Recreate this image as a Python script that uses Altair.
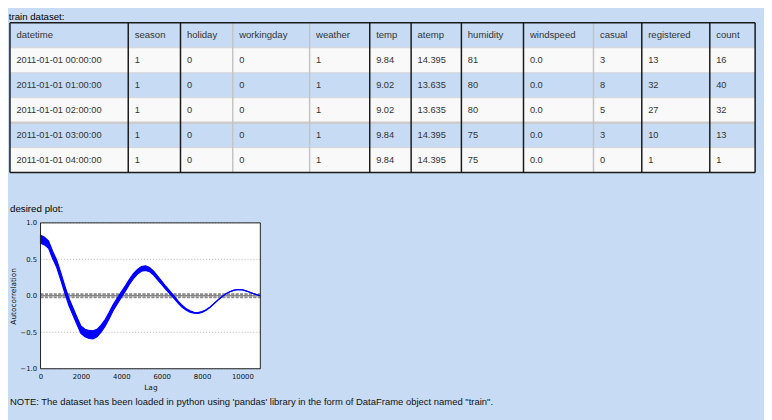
import altair as alt
import pandas as pd

# ---------------- data: table ----------------
columns = ["datetime", "season", "holiday", "workingday", "weather", "temp",
           "atemp", "humidity", "windspeed", "casual", "registered", "count"]
datetime_vals = ["2011-01-01 00:00:00", "2011-01-01 01:00:00", "2011-01-01 02:00:00",
                 "2011-01-01 03:00:00", "2011-01-01 04:00:00"]
season = ["1", "1", "1", "1", "1"]
holiday = ["0", "0", "0", "0", "0"]
workingday = ["0", "0", "0", "0", "0"]
weather = ["1", "1", "1", "1", "1"]
temp = ["9.84", "9.02", "9.02", "9.84", "9.84"]
atemp = ["14.395", "13.635", "13.635", "14.395", "14.395"]
humidity = ["81", "80", "80", "75", "75"]
windspeed = ["0.0", "0.0", "0.0", "0.0", "0.0"]
casual = ["3", "8", "5", "3", "0"]
registered = ["13", "32", "27", "10", "1"]
count = ["16", "40", "32", "13", "1"]

# ---------------- data: autocorrelation ----------------
lags = [0, 200, 400, 600, 800, 1000, 1200, 1400, 1600, 1800, 2000, 2200, 2400, 2600,
        2800, 3000, 3200, 3400, 3600, 3800, 4000, 4200, 4400, 4600, 4800, 5000, 5200,
        5400, 5600, 5800, 6000, 6200, 6400, 6600, 6800, 7000, 7200, 7400, 7600, 7800,
        8000, 8200, 8400, 8600, 8800, 9000, 9200, 9400, 9600, 9800, 10000, 10200,
        10400, 10600, 10800, 10886]
acf_center = [0.775, 0.75, 0.70, 0.56, 0.44, 0.27, 0.09, -0.08, -0.21, -0.34, -0.465,
              -0.51, -0.53, -0.535, -0.51, -0.45, -0.37, -0.27, -0.16, -0.07, 0.015,
              0.10, 0.19, 0.27, 0.33, 0.37, 0.38, 0.36, 0.31, 0.245, 0.18, 0.11, 0.05,
              -0.015, -0.08, -0.14, -0.185, -0.215, -0.232, -0.235, -0.222, -0.195,
              -0.155, -0.105, -0.055, -0.01, 0.03, 0.06, 0.078, 0.086, 0.082, 0.065,
              0.045, 0.025, 0.008, 0.0]
acf_halfband = [0.055, 0.052, 0.05, 0.05, 0.05, 0.05, 0.05, 0.05, 0.05, 0.05,
                0.05, 0.052, 0.055, 0.055, 0.05, 0.047, 0.045, 0.043, 0.041, 0.04,
                0.038, 0.036, 0.035, 0.034, 0.033, 0.032, 0.031, 0.029, 0.027, 0.025,
                0.023, 0.021, 0.019, 0.017, 0.015, 0.013, 0.011, 0.009, 0.007, 0.006,
                0.005, 0.004, 0.003, 0.002, 0.001, 0.0, 0.0, 0.0, 0.0, 0.0, 0.0,
                0.0, 0.0, 0.0, 0.0, 0.0]
conf_levels = [0.025, 0.019, -0.019, -0.025]
zero_level = [0.0]
x_ticks = [0, 2000, 4000, 6000, 8000, 10000]
y_ticks = [-1.0, -0.5, 0.0, 0.5, 1.0]
lag_max = 10886

NOTE = "NOTE: The dataset has been loaded in python using 'pandas' library in the form of DataFrame object named \"train\"."

# ---------------- styles ----------------
BLUE = "#c7dcf4"
WHITE_ROW = "#f9f9f9"
TXT = "#333333"
FONT = "Liberation Sans"
PFONT = "DejaVu Sans"
COL_WIDTHS = [120, 53, 53, 78, 61, 42, 51, 63, 71, 49, 69, 46]
DARK_EDGE = [True, True, True, False, False, True, True, True, True, False, True, True, True]
TABLE_W = sum(COL_WIDTHS)
TABLE_H = 152
N_ROWS = 6
AXIS_ROOM = 31          # room left of the plot area for the y-axis labels/title
PLOT_W = 223
PLOT_H = 148

edges = [0]
for w in COL_WIDTHS:
    edges.append(edges[-1] + w)

body = [datetime_vals, season, holiday, workingday, weather, temp, atemp,
        humidity, windspeed, casual, registered, count]

cells = []
for c, name in enumerate(columns):
    cells.append(dict(x=edges[c], x2=edges[c + 1], y=0, y2=1, yc=0.5,
                      text=name, kind="header", band="blue"))
    for r in range(5):
        cells.append(dict(x=edges[c], x2=edges[c + 1], y=r + 1, y2=r + 2, yc=r + 1.5,
                          text=body[c][r], kind="cell",
                          band="white" if r % 2 == 0 else "blue"))
cells_df = pd.DataFrame(cells)

vlines = pd.DataFrame([dict(x=e, y=0, y2=N_ROWS, dark="d" if d else "g")
                       for e, d in zip(edges, DARK_EDGE)])
hinner = pd.DataFrame([dict(y=r, x=0, x2=TABLE_W, w="thick" if r == 4 else "thin")
                       for r in range(1, N_ROWS)])
houter = pd.DataFrame([dict(y=r, x=0, x2=TABLE_W) for r in (0, N_ROWS)])

xs = alt.Scale(domain=[0, TABLE_W], nice=False, zero=False)
ys = alt.Scale(domain=[0, N_ROWS], range=[0, TABLE_H], nice=False, zero=False)

rects = alt.Chart(cells_df).mark_rect(strokeWidth=0).encode(
    x=alt.X("x:Q", scale=xs, axis=None), x2="x2:Q",
    y=alt.Y("y:Q", scale=ys, axis=None), y2="y2:Q",
    color=alt.Color("band:N", scale=alt.Scale(domain=["blue", "white"], range=[BLUE, WHITE_ROW]),
                    legend=None))
hin_thin = alt.Chart(hinner).transform_filter("datum.w == 'thin'").mark_rule(
    color="#d6d6d6", strokeWidth=1).encode(
    x=alt.X("x:Q", scale=xs, axis=None), x2="x2:Q", y=alt.Y("y:Q", scale=ys, axis=None))
hin_thick = alt.Chart(hinner).transform_filter("datum.w == 'thick'").mark_rule(
    color="#cccccc", strokeWidth=2.5).encode(
    x=alt.X("x:Q", scale=xs, axis=None), x2="x2:Q", y=alt.Y("y:Q", scale=ys, axis=None))
v_grey = alt.Chart(vlines).transform_filter("datum.dark == 'g'").mark_rule(
    color="#c4c4c4", strokeWidth=1.5).encode(
    x=alt.X("x:Q", scale=xs, axis=None), y=alt.Y("y:Q", scale=ys, axis=None), y2="y2:Q")
v_dark = alt.Chart(vlines).transform_filter("datum.dark == 'd'").mark_rule(
    color="#1a1a1a", strokeWidth=1.5).encode(
    x=alt.X("x:Q", scale=xs, axis=None), y=alt.Y("y:Q", scale=ys, axis=None), y2="y2:Q")
h_out = alt.Chart(houter).mark_rule(color="#1a1a1a", strokeWidth=1.5).encode(
    x=alt.X("x:Q", scale=xs, axis=None), x2="x2:Q", y=alt.Y("y:Q", scale=ys, axis=None))
txt_head = alt.Chart(cells_df).transform_filter("datum.kind == 'header'").mark_text(
    align="left", baseline="middle", dx=6.5, font=FONT, fontSize=9.7, color=TXT).encode(
    x=alt.X("x:Q", scale=xs, axis=None), y=alt.Y("yc:Q", scale=ys, axis=None), text="text:N")
txt_cell = alt.Chart(cells_df).transform_filter("datum.kind == 'cell'").mark_text(
    align="left", baseline="middle", dx=6.5, font=FONT, fontSize=9.4, color=TXT).encode(
    x=alt.X("x:Q", scale=xs, axis=None), y=alt.Y("yc:Q", scale=ys, axis=None), text="text:N")

table = alt.layer(rects, hin_thin, hin_thick, v_grey, v_dark, h_out, txt_head, txt_cell).properties(
    width=TABLE_W, height=178,
    title=alt.TitleParams("train dataset:", anchor="start", frame="bounds", font=FONT,
                          fontSize=9.8, fontWeight="normal", color="#000000", offset=0))

# ---------------- autocorrelation plot ----------------
acf_df = pd.DataFrame({"lag": lags, "center": acf_center, "band": acf_halfband})
acf_df["upper"] = acf_df["center"] + acf_df["band"]
acf_df["lower"] = acf_df["center"] - acf_df["band"]

px = alt.Scale(domain=[0, lag_max], range=[AXIS_ROOM, AXIS_ROOM + PLOT_W], nice=False, zero=False)
py = alt.Scale(domain=[-1, 1], nice=False, zero=False)
xaxis = alt.Axis(values=x_ticks, format="d", grid=True, gridColor="#b5b5b5", gridDash=[1, 2],
                 ticks=False, domain=False, labelFont=PFONT, labelFontSize=7, labelColor="#111",
                 labelPadding=4, labelFlush=False, title="Lag", titleFont=PFONT,
                 titleFontSize=7.5, titleFontWeight="normal", titleColor="#111", titlePadding=4)
yaxis = alt.Axis(values=y_ticks, format=".1f", grid=False, offset=-AXIS_ROOM,
                 ticks=False, domain=False, labelFont=PFONT, labelFontSize=7, labelColor="#111",
                 labelPadding=4, title="Autocorrelation", titleFont=PFONT, titleFontSize=7.5,
                 titleFontWeight="normal", titleColor="#111", titlePadding=2)

frame_df = pd.DataFrame({"x": [0], "x2": [lag_max], "y": [-1.0], "y2": [1.0]})
ygrid_df = pd.DataFrame({"level": y_ticks, "x": [0] * len(y_ticks), "x2": [lag_max] * len(y_ticks)})

frame_fill = alt.Chart(frame_df).mark_rect(fill="white", strokeWidth=0).encode(
    x=alt.X("x:Q", scale=px, axis=xaxis), x2="x2:Q",
    y=alt.Y("y:Q", scale=py, axis=yaxis), y2="y2:Q")
ygrid = alt.Chart(ygrid_df).mark_rule(color="#b5b5b5", strokeDash=[1, 2], strokeWidth=1).encode(
    x=alt.X("x:Q", scale=px, axis=xaxis), x2="x2:Q", y=alt.Y("level:Q", scale=py, axis=yaxis))
conf = alt.Chart(pd.DataFrame({"level": conf_levels, "x": [0] * 4, "x2": [lag_max] * 4})).mark_rule(
    color="#8c8c8c", strokeWidth=1.3, strokeDash=[3, 1.5]).encode(
    x=alt.X("x:Q", scale=px, axis=xaxis), x2="x2:Q", y=alt.Y("level:Q", scale=py, axis=yaxis))
zero = alt.Chart(pd.DataFrame({"level": zero_level, "x": [0], "x2": [lag_max]})).mark_rule(
    color="#555555", strokeWidth=1).encode(
    x=alt.X("x:Q", scale=px, axis=xaxis), x2="x2:Q", y=alt.Y("level:Q", scale=py, axis=yaxis))
band = alt.Chart(acf_df).mark_area(color="#0000ff", opacity=1, stroke="#0000ff",
                                   strokeWidth=1.2).encode(
    x=alt.X("lag:Q", scale=px, axis=xaxis),
    y=alt.Y("lower:Q", scale=py, axis=yaxis), y2="upper:Q")
line = alt.Chart(acf_df).mark_line(color="#0000ff", strokeWidth=1.1).encode(
    x=alt.X("lag:Q", scale=px, axis=xaxis),
    y=alt.Y("center:Q", scale=py, axis=yaxis))
frame_line = alt.Chart(frame_df).mark_rect(fill="transparent", stroke="#222222", strokeWidth=1).encode(
    x=alt.X("x:Q", scale=px, axis=xaxis), x2="x2:Q",
    y=alt.Y("y:Q", scale=py, axis=yaxis), y2="y2:Q")

plot = alt.layer(frame_fill, ygrid, conf, zero, band, line, frame_line).properties(
    width=AXIS_ROOM + PLOT_W, height=PLOT_H,
    title=alt.TitleParams("desired plot:", anchor="start", frame="bounds", font=FONT,
                          fontSize=9.9, fontWeight="normal", color="#000000", offset=5))

note = alt.Chart(pd.DataFrame({"note": [NOTE]})).mark_text(
    align="left", baseline="middle", font=FONT, fontSize=9.6, color="#111111").encode(
    text="note:N", x=alt.value(0), y=alt.value(6)).properties(width=490, height=12)

chart = alt.vconcat(table, plot, note, spacing=4).properties(
    background=BLUE,
    padding={"left": 0, "top": 0, "right": 7, "bottom": 8},
).configure_view(stroke="transparent")

chart.save("out.html", embed_options={"renderer": "svg", "actions": False})
